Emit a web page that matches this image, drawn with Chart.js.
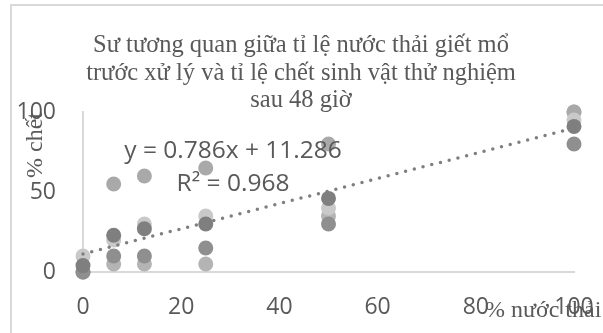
<!DOCTYPE html>
<html>
<head>
<meta charset="utf-8">
<script src="https://cdn.jsdelivr.net/npm/chart.js@4"></script>
<style>
  html, body { margin: 0; padding: 0; background: #ffffff; overflow: hidden; }
  #wrap { position: relative; width: 603px; height: 333px; }
  #frame { position: absolute; left: 10px; top: 4px; width: 700px; height: 400px; border: 2px solid #d9d9d9; }
  #chart { position: absolute; left: 0; top: 0; }
</style>
</head>
<body>
<div id="wrap">
  <div id="frame"></div>
  <canvas id="chart" width="603" height="333"></canvas>
</div>
<script>
// % nuoc thai (x) and % chet of each replicate
const wasteShare = [0, 6.25, 12.5, 25, 50, 100];
const rep1 = [4, 23, 27, 30, 46, 91];
const rep2 = [0, 10, 10, 15, 30, 80];
const rep3 = [10, 20, 30, 35, 40, 95];
const rep4 = [0, 55, 60, 65, 80, 100];
const rep5 = [0, 5, 5, 5, 35, 100];

const xTicks = [0, 20, 40, 60, 80, 100];
const yTicks = [0, 50, 100];

const slope = 0.786;
const intercept = 11.286;

const titleLines = [
    "Sư tương quan giữa tỉ lệ nước thải giết mổ",
    "trước xử lý và tỉ lệ chết sinh vật thử nghiệm",
    "sau 48 giờ"
];

const textGray = "#595959";
const tickFont = "'Open Sans', sans-serif";
const serif = "'Liberation Serif', 'DejaVu Serif', serif";

function points(ys) {
    return wasteShare.map((x, i) => ({ x: x, y: ys[i] }));
}

function series(ys, color, order) {
    return {
        data: points(ys),
        backgroundColor: color,
        borderWidth: 0,
        pointRadius: 7.5,
        pointHoverRadius: 7.5,
        clip: false,
        order: order
    };
}

// extra texts placed like in the workbook
const extraText = {
    id: "extraText",
    afterDraw(chart) {
        const c = chart.ctx;
        c.save();
        c.fillStyle = textGray;
        c.textAlign = "center";
        c.textBaseline = "middle";
        c.font = "24.5px " + serif;
        titleLines.forEach((t, i) => c.fillText(t, 301, 46 + i * 27.5));

        c.font = "24px " + serif;
        c.textAlign = "left";
        c.fillText("% nước thải", 485, 311);

        c.save();
        c.translate(36, 145);
        c.rotate(-Math.PI / 2);
        c.textAlign = "center";
        c.fillText("% chết", 0, 0);
        c.restore();

        c.textAlign = "center";
        c.font = "24.5px " + tickFont;
        c.fillText("y = " + slope + "x + " + intercept, 233, 151);
        c.fillText("R² = 0.968", 233, 184);
        c.restore();
    }
};

new Chart(document.getElementById("chart"), {
    type: "scatter",
    data: {
        datasets: [
            series(rep1, "#7f7f7f", 0),
            {
                type: "line",
                data: [
                    { x: xTicks[0], y: intercept },
                    { x: xTicks[xTicks.length - 1], y: intercept + slope * xTicks[xTicks.length - 1] }
                ],
                borderColor: "#7f7f7f",
                borderWidth: 3.5,
                borderDash: [0, 9],
                borderCapStyle: "round",
                pointRadius: 0,
                fill: false,
                clip: false,
                order: 1
            },
            series(rep2, "#8f8f8f", 2),
            series(rep3, "#c9c9c9", 3),
            series(rep4, "#a9a9a9", 4),
            series(rep5, "#b4b4b4", 5)
        ]
    },
    options: {
        responsive: false,
        animation: false,
        events: [],
        layout: { padding: { left: 0, right: 29, top: 112, bottom: 0 } },
        plugins: {
            legend: { display: false },
            tooltip: { enabled: false }
        },
        scales: {
            x: {
                type: "linear",
                min: 0,
                max: 100,
                afterBuildTicks: s => { s.ticks = xTicks.map(v => ({ value: v })); },
                afterFit: s => { s.height = 61; s.paddingLeft = 0; s.paddingRight = 0; },
                grid: { display: false, drawTicks: false },
                border: { color: "#d9d9d9", width: 2 },
                ticks: { padding: 22, color: textGray, font: { family: tickFont, size: 23 } }
            },
            y: {
                type: "linear",
                min: 0,
                max: 100,
                afterBuildTicks: s => { s.ticks = yTicks.map(v => ({ value: v })); },
                afterFit: s => { s.width = 83; s.paddingTop = 0; s.paddingBottom = 0; },
                grid: { display: false, drawTicks: false },
                border: { color: "#d9d9d9", width: 2 },
                ticks: { padding: 27, color: textGray, font: { family: tickFont, size: 23 } }
            }
        }
    },
    plugins: [extraText]
});
</script>
</body>
</html>
